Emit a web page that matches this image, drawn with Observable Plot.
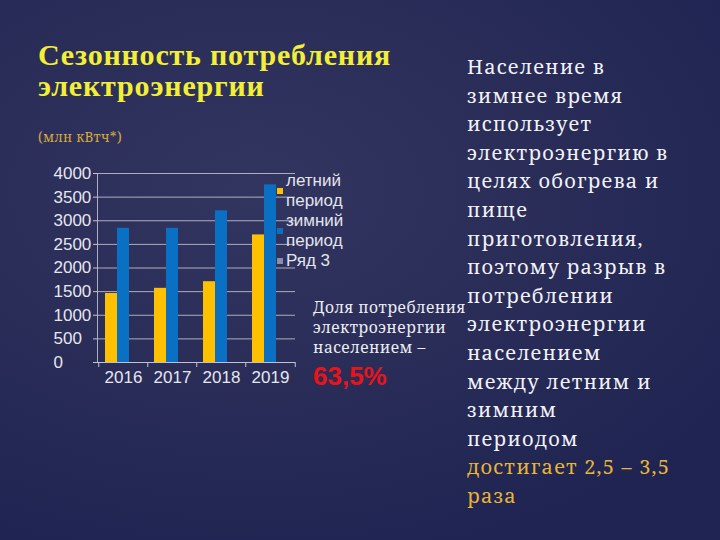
<!DOCTYPE html>
<html><head><meta charset="utf-8">
<script src="https://cdn.jsdelivr.net/npm/d3@7"></script>
<script src="https://cdn.jsdelivr.net/npm/@observablehq/plot@0.6"></script>
<style>
html,body{margin:0;padding:0;background:#262a55;}
#slide{position:relative;width:720px;height:540px;overflow:hidden;
 background:radial-gradient(ellipse 80% 70% at 35% 35%, #32355f 0%, #2a2d58 50%, #1f2452 100%);}
.abs{position:absolute;white-space:nowrap;}
#title{left:38px;top:39px;font-family:"Liberation Serif",serif;font-weight:bold;font-size:30px;letter-spacing:0.8px;color:#f3ef36;}
#title div{height:31px;line-height:31px;}
#unit{left:38px;top:127px;font-family:"Noto Serif",serif;font-size:13.5px;line-height:20px;letter-spacing:0.3px;color:#d6a83c;}
#right{left:467px;top:53px;font-family:"Noto Serif",serif;font-size:20px;line-height:28.6px;letter-spacing:1.2px;color:#f2f2f6;}
#right .g{color:#e8b534;}
#share{left:313px;top:297px;font-family:"Noto Serif",serif;font-size:15.5px;line-height:20px;letter-spacing:0.5px;color:#ececf2;}
#pct{left:313px;top:362px;font-family:"Liberation Sans",Arial,sans-serif;font-weight:bold;font-size:26px;line-height:28px;color:#e8141a;}
#chart{left:30px;top:150px;}
#legend{left:277px;top:171px;font-family:"Liberation Sans",Arial,sans-serif;font-size:17px;line-height:20px;color:#e4e4ec;}
.entry{display:flex;align-items:center;}
.sw{width:6px;height:6px;margin-right:3px;flex:none;}
.lab{width:62px;white-space:normal;}
</style></head><body>
<div id="slide">
  <div id="title" class="abs"><div>Сезонность потребления</div><div>электроэнергии</div></div>
  <div id="unit" class="abs">(млн кВтч*)</div>
  <div id="chart" class="abs"></div>
  <div id="legend" class="abs"></div>
  <div id="share" class="abs">Доля потребления<br>электроэнергии<br>населением –</div>
  <div id="pct" class="abs">63,5%</div>
  <div id="right" class="abs">Население в<br>зимнее время<br>использует<br>электроэнергию в<br>целях обогрева и<br>пище<br>приготовления,<br>поэтому разрыв в<br>потреблении<br>электроэнергии<br>населением<br>между летним и<br>зимним<br>периодом<br><span class="g">достигает 2,5 – 3,5<br>раза</span></div>
</div>
<script>
const years = ["2016", "2017", "2018", "2019"];
const seriesNames = ["летний период", "зимний период", "Ряд 3"];
const summer = [1460, 1570, 1710, 2700];
const winter = [2840, 2840, 3210, 3760];
const series3 = [null, null, null, null];
const yTicks = [0, 500, 1000, 1500, 2000, 2500, 3000, 3500, 4000];
const seriesColors = ["#ffc000", "#0a70c4", "#8a8ea8"];

const allSeries = [summer, winter, series3];
const rows = years.map((y, i) => ({year: y, values: allSeries.map(s => s[i])}));

const W = 280, H = 240, ML = 67, MR = 15, MT = 23, MB = 28;
const pInner = 0.2727, pOuter = pInner / 2;
const innerW = W - ML - MR;
const step = innerW / (years.length - pInner + 2 * pOuter);
const slot = step * (1 - pInner) / allSeries.length;

const bars = allSeries.map((s, k) =>
  Plot.barY(rows.filter(r => r.values[k] != null), {
    x: "year", y: r => r.values[k], fill: seriesColors[k],
    insetLeft: k * slot, insetRight: (allSeries.length - 1 - k) * slot
  })
);

const chart = Plot.plot({
  width: W, height: H,
  marginLeft: ML, marginRight: MR, marginTop: MT, marginBottom: MB,
  style: {background: "transparent", color: "#e6e6ee", fontFamily: "'Liberation Sans', Arial, sans-serif", overflow: "visible"},
  x: {type: "band", domain: years, paddingInner: pInner, paddingOuter: pOuter, label: null},
  y: {domain: [0, 4000], label: null},
  marks: [
    Plot.gridY(yTicks, {stroke: "#c4c4d0", strokeOpacity: 0.85, strokeWidth: 1}),
    Plot.frame({anchor: "left", stroke: "#c4c4d0", strokeOpacity: 0.85}),
    ...bars,
    Plot.axisY(yTicks, {tickSize: 4, tickPadding: 40, textAnchor: "start", fontSize: 17, tickFormat: d => String(d), stroke: "#c4c4d0", fill: "#e6e6ee", label: null}),
    Plot.axisX({tickSize: 0, tickPadding: 8, fontSize: 17, fill: "#e6e6ee", label: null}),
    Plot.axisX({tickSize: 5, tickFormat: () => "", dx: -step / 2, stroke: "#c4c4d0", label: null}),
    Plot.axisX([years[years.length - 1]], {tickSize: 5, tickFormat: () => "", dx: step / 2, stroke: "#c4c4d0", label: null}),
    Plot.ruleY([0], {stroke: "#c4c4d0", strokeOpacity: 0.85})
  ]
});
document.getElementById("chart").appendChild(chart);

const legend = document.getElementById("legend");
seriesNames.forEach((name, k) => {
  const e = document.createElement("div");
  e.className = "entry";
  const sw = document.createElement("span");
  sw.className = "sw"; sw.style.background = seriesColors[k];
  const lab = document.createElement("span");
  lab.className = "lab"; lab.textContent = name;
  e.appendChild(sw); e.appendChild(lab);
  legend.appendChild(e);
});
</script>
</body></html>
